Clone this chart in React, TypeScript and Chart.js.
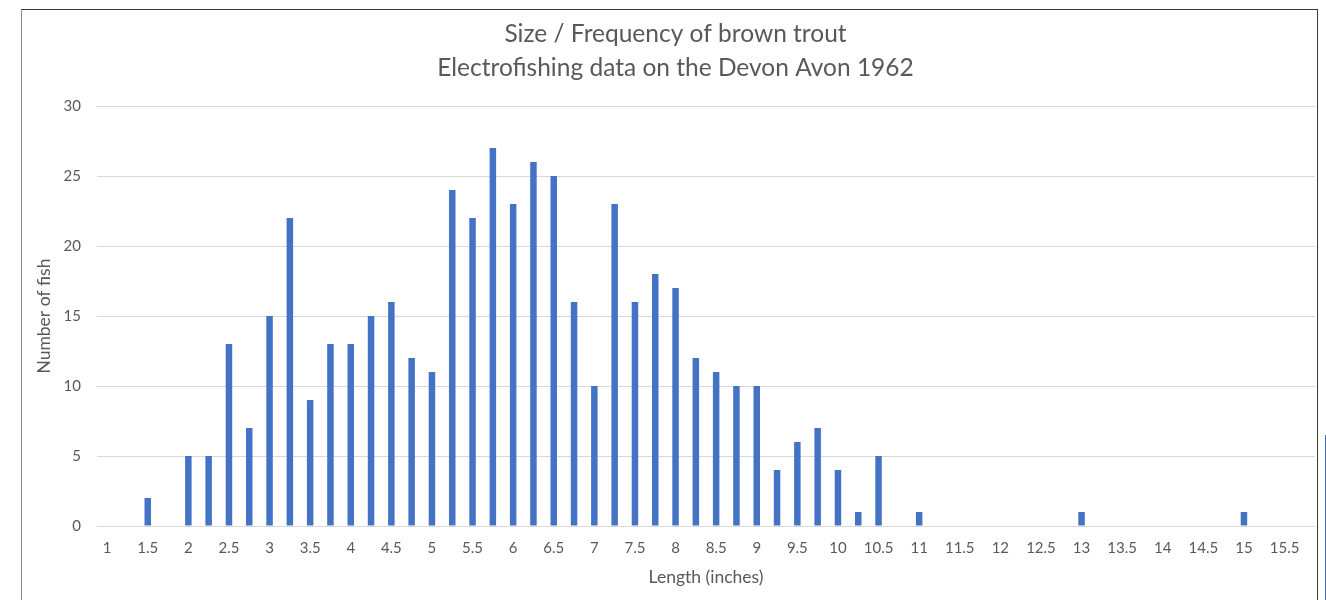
import React, { useEffect, useRef } from "react";
import { Chart, registerables } from "chart.js";

Chart.register(...registerables);

const titleLines = ["Size / Frequency of brown trout", "Electrofishing data on the Devon Avon 1962"];
const xAxisTitle = "Length (inches)";
const yAxisTitle = "Number of fish";

const lengths = [
  "1", "1.25", "1.5", "1.75", "2", "2.25", "2.5", "2.75", "3", "3.25", "3.5", "3.75",
  "4", "4.25", "4.5", "4.75", "5", "5.25", "5.5", "5.75", "6", "6.25", "6.5", "6.75",
  "7", "7.25", "7.5", "7.75", "8", "8.25", "8.5", "8.75", "9", "9.25", "9.5", "9.75",
  "10", "10.25", "10.5", "10.75", "11", "11.25", "11.5", "11.75", "12", "12.25", "12.5", "12.75",
  "13", "13.25", "13.5", "13.75", "14", "14.25", "14.5", "14.75", "15", "15.25", "15.5", "15.75",
];

const fishCounts = [
  0, 0, 2, 0, 5, 5, 13, 7, 15, 22, 9, 13,
  13, 15, 16, 12, 11, 24, 22, 27, 23, 26, 25, 16,
  10, 23, 16, 18, 17, 12, 11, 10, 10, 4, 6, 7,
  4, 1, 5, 0, 1, 0, 0, 0, 0, 0, 0, 0,
  1, 0, 0, 0, 0, 0, 0, 0, 1, 0, 0, 0,
];

// labels shown on the axis (every half inch)
const shownTickLabels = [
  "1", "1.5", "2", "2.5", "3", "3.5", "4", "4.5", "5", "5.5", "6", "6.5", "7", "7.5",
  "8", "8.5", "9", "9.5", "10", "10.5", "11", "11.5", "12", "12.5", "13", "13.5", "14", "14.5", "15", "15.5",
];

const yTicks = { min: 0, max: 30, step: 5 };

const FONT = "Lato, 'Open Sans', sans-serif";
const TEXT = "#595959";
const GRID = "#D9D9D9";
const BAR = "#4472C4";

export default function App() {
  const ref = useRef<HTMLCanvasElement | null>(null);

  useEffect(() => {
    if (!ref.current) return;
    const chart = new Chart(ref.current, {
      type: "bar",
      data: {
        labels: lengths,
        datasets: [
          {
            label: "Number of fish",
            data: fishCounts,
            backgroundColor: BAR,
            borderWidth: 0,
            barPercentage: 0.32,
            categoryPercentage: 1,
          },
        ],
      },
      options: {
        responsive: false,
        animation: false,
        devicePixelRatio: 1,
        layout: { padding: { left: 36, right: 11, top: 0, bottom: 0 } },
        plugins: {
          legend: { display: false },
          tooltip: { enabled: false },
          title: {
            display: true,
            text: titleLines,
            color: TEXT,
            font: { family: FONT, size: 24.5, weight: "normal", lineHeight: 1.39 },
            padding: { top: 17, bottom: 21 },
          },
        },
        scales: {
          x: {
            grid: { display: false, drawTicks: false },
            border: { display: false },
            ticks: {
              color: TEXT,
              font: { family: FONT, size: 15, lineHeight: 1.2 },
              padding: 13,
              autoSkip: false,
              maxRotation: 0,
              minRotation: 0,
              callback: (value: any) => {
                const lbl = lengths[value as number];
                return shownTickLabels.includes(lbl) ? lbl : "";
              },
            },
            title: {
              display: true,
              text: xAxisTitle,
              color: TEXT,
              font: { family: FONT, size: 17.5, lineHeight: 1.2 },
              padding: { top: 2, bottom: 12.5 },
            },
            afterFit: (scale: any) => {
              scale.height = 74;
            },
          },
          y: {
            min: yTicks.min,
            max: yTicks.max,
            grid: { color: GRID, drawTicks: false, lineWidth: 1 },
            border: { display: false },
            ticks: {
              stepSize: yTicks.step,
              color: TEXT,
              font: { family: FONT, size: 15 },
              padding: 16,
            },
            title: {
              display: true,
              text: yAxisTitle,
              color: TEXT,
              font: { family: FONT, size: 17.5, lineHeight: 1 },
              padding: { top: 0, bottom: 0 },
            },
            afterFit: (scale: any) => {
              scale.width = 61;
            },
          },
        },
      },
    });
    return () => chart.destroy();
  }, []);

  return (
    <div style={{ position: "fixed", left: 0, top: 0, width: 1326, height: 600, background: "#fff", overflow: "hidden" }}>
      <canvas ref={ref} width={1326} height={600} style={{ position: "absolute", left: 0, top: 0 }} />
      <div
        style={{
          position: "absolute",
          left: 21,
          top: 9,
          width: 1297,
          height: 600,
          boxSizing: "border-box",
          borderTop: "1px solid #3a3a3a",
          borderLeft: "1px solid #8a8a8a",
          borderRight: "1px solid #3a3a3a",
          pointerEvents: "none",
        }}
      />
      <div style={{ position: "absolute", left: 1325, top: 435, width: 1, height: 165, background: BAR, pointerEvents: "none" }} />
    </div>
  );
}
